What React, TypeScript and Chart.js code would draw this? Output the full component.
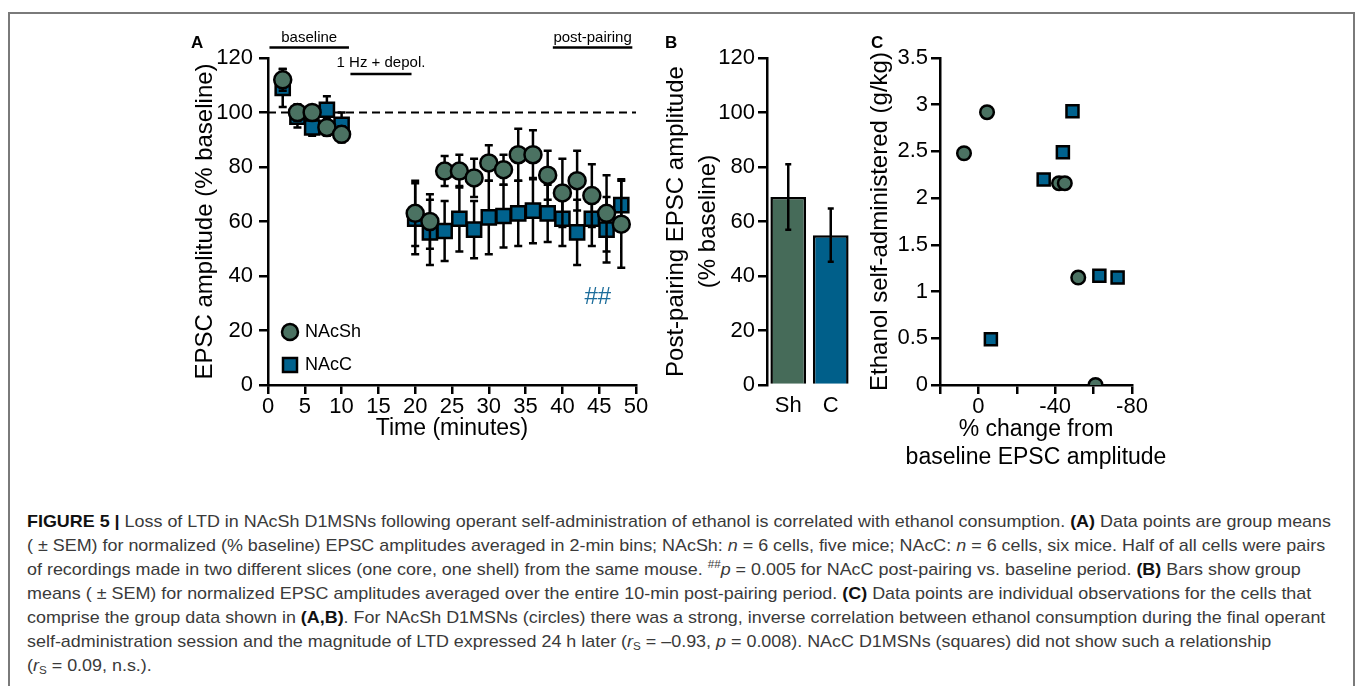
import React, { useEffect, useLayoutEffect, useRef } from 'react';
import { Chart, registerables } from 'chart.js';

Chart.register(...registerables);

const FONT = '"Liberation Sans", Arial, Helvetica, sans-serif';

// ---------------- Panel A data ----------------
const timeBins = [2, 4, 6, 8, 10, 20, 22, 24, 26, 28, 30, 32, 34, 36, 38, 40, 42, 44, 46, 48];
const nacshMean = [112, 100, 100, 94.5, 92, 63, 60, 78.5, 78.5, 76, 81.5, 79, 84.5, 84.5, 77, 70.5, 75, 69.5, 63, 59];
const nacshSem = [4, 3, 2, 3, 3, 12, 10, 5.5, 6, 7, 6.5, 5.5, 9.5, 9, 9, 12.5, 11, 11.5, 14, 16];
const naccMean = [109, 98.5, 94.5, 101, 95.5, 61, 56, 56.5, 61, 57, 61.5, 62, 63, 64, 63, 61, 56, 61, 57, 66];
const naccSem = [7, 4, 3, 5, 4.5, 13, 12, 11, 12, 10.5, 13.5, 11.5, 12, 12, 10.5, 10, 12, 10, 12, 9.5];
const seriesNamesA = ['NAcSh', 'NAcC'];
const periodLabels = ['baseline', '1 Hz + depol.', 'post-pairing'];
const periodStart = [0.2, 11.2, 38.7];
const periodEnd = [11, 19.5, 49.5];
const baselineLevel = 100;
const sigLabel = '##';
const sigTime = 44.8;
const sigValue = 32;

// ---------------- Panel B data ----------------
const barCategories = ['Sh', 'C'];
const barMeans = [69, 55];
const barSems = [12, 9.8];

// ---------------- Panel C data ----------------
const shChange = [7.5, -4.5, -42, -45, -52, -61];
const shIntake = [2.48, 2.92, 2.16, 2.16, 1.15, 0];
const cChange = [-49, -44, -34, -63, -72.5, -6.5];
const cIntake = [2.93, 2.49, 2.2, 1.17, 1.15, 0.49];
const labeledChangeTicks = [0, -40, -80];
const xTitleC = ['% change from', 'baseline EPSC amplitude'];

// ---------------- Styles ----------------
const GREEN = '#4b7262';
const BLUE = '#00628e';
const BAR_GREEN = '#466b59';
const BAR_BLUE = '#005f8a';
const SIG_BLUE = '#1d6d9b';

const tickFont = { family: FONT, size: 22 };
const titleFont = { family: FONT, size: 23, lineHeight: 1.2 };

function axisBase() {
  return {
    border: { display: true, color: '#000', width: 2.5 },
    grid: { drawOnChartArea: false, drawTicks: true, tickLength: 9, color: '#000', lineWidth: 2.5 },
  };
}

function drawErrorBars(ctx: CanvasRenderingContext2D, xs: number[], means: number[], sems: number[], yScale: any, cap: number) {
  ctx.save();
  ctx.strokeStyle = '#000';
  ctx.lineWidth = 2.5;
  ctx.beginPath();
  for (let i = 0; i < xs.length; i++) {
    const x = xs[i];
    const yt = yScale.getPixelForValue(means[i] + sems[i]);
    const yb = yScale.getPixelForValue(means[i] - sems[i]);
    ctx.moveTo(x, yt);
    ctx.lineTo(x, yb);
    ctx.moveTo(x - cap, yt);
    ctx.lineTo(x + cap, yt);
    ctx.moveTo(x - cap, yb);
    ctx.lineTo(x + cap, yb);
  }
  ctx.stroke();
  ctx.restore();
}

function PanelA() {
  const ref = useRef<HTMLCanvasElement>(null);
  useEffect(() => {
    if (!ref.current) return;
    const means = [nacshMean, naccMean];
    const sems = [nacshSem, naccSem];
    const decor = {
      id: 'decorA',
      beforeDatasetsDraw(chart: any) {
        const { ctx, chartArea: ca, scales } = chart;
        const y = scales.y.getPixelForValue(baselineLevel);
        ctx.save();
        ctx.strokeStyle = '#000';
        ctx.lineWidth = 2;
        ctx.setLineDash([8, 5]);
        ctx.beginPath();
        ctx.moveTo(ca.left, y);
        ctx.lineTo(ca.right, y);
        ctx.stroke();
        ctx.restore();
      },
      beforeDatasetDraw(chart: any, args: any) {
        const meta = args.meta;
        const xs = meta.data.map((p: any) => p.x);
        drawErrorBars(chart.ctx, xs, means[args.index], sems[args.index], chart.scales.y, 4);
      },
      afterDraw(chart: any) {
        const { ctx, chartArea: ca, scales } = chart;
        const xs = scales.x;
        ctx.save();
        ctx.fillStyle = '#000';
        ctx.strokeStyle = '#000';
        ctx.lineWidth = 2.5;
        ctx.font = `15px ${FONT}`;
        ctx.textAlign = 'center';
        ctx.textBaseline = 'middle';
        const rowOffsets = [0, 1, 0];
        periodLabels.forEach((lab, i) => {
          const x0 = xs.getPixelForValue(periodStart[i]);
          const x1 = xs.getPixelForValue(periodEnd[i]);
          const lineY = ca.top - 10.5 + rowOffsets[i] * 26.5;
          const textY = ca.top - 20 + rowOffsets[i] * 25;
          ctx.beginPath();
          ctx.moveTo(x0, lineY);
          ctx.lineTo(x1, lineY);
          ctx.stroke();
          ctx.fillText(lab, (x0 + x1) / 2, textY);
        });
        // significance label
        ctx.fillStyle = SIG_BLUE;
        ctx.font = `24px ${FONT}`;
        ctx.fillText(sigLabel, xs.getPixelForValue(sigTime), scales.y.getPixelForValue(sigValue));
        // legend
        ctx.lineWidth = 2.5;
        const lx = ca.left + 22;
        const ly1 = ca.bottom - 53;
        const ly2 = ca.bottom - 20;
        ctx.beginPath();
        ctx.arc(lx, ly1, 8, 0, Math.PI * 2);
        ctx.fillStyle = GREEN;
        ctx.fill();
        ctx.stroke();
        ctx.beginPath();
        ctx.rect(lx - 7, ly2 - 7, 14, 14);
        ctx.fillStyle = BLUE;
        ctx.fill();
        ctx.stroke();
        ctx.fillStyle = '#000';
        ctx.font = `18px ${FONT}`;
        ctx.textAlign = 'left';
        ctx.fillText(seriesNamesA[0], lx + 15, ly1);
        ctx.fillText(seriesNamesA[1], lx + 15, ly2);
        ctx.restore();
      },
    };
    const chart = new Chart(ref.current, {
      type: 'scatter',
      data: {
        datasets: [
          {
            label: seriesNamesA[0],
            data: timeBins.map((t, i) => ({ x: t, y: nacshMean[i] })),
            pointStyle: 'circle',
            pointRadius: 8.5,
            pointBackgroundColor: GREEN,
            pointBorderColor: '#000',
            pointBorderWidth: 2.5,
            showLine: false,
          },
          {
            label: seriesNamesA[1],
            data: timeBins.map((t, i) => ({ x: t, y: naccMean[i] })),
            pointStyle: 'rect',
            pointRadius: 10,
            pointBackgroundColor: BLUE,
            pointBorderColor: '#000',
            pointBorderWidth: 2.5,
            showLine: false,
          },
        ],
      },
      options: {
        responsive: false,
        animation: false,
        devicePixelRatio: 1,
        events: [],
        layout: { padding: { left: 8, right: 24, top: 38, bottom: 6 } },
        plugins: { legend: { display: false }, tooltip: { enabled: false } },
        scales: {
          x: {
            type: 'linear',
            min: 0,
            max: 50,
            ...axisBase(),
            ticks: { stepSize: 5, font: tickFont, color: '#000', padding: 0, autoSkip: false, maxRotation: 0 },
            title: { display: true, text: 'Time (minutes)', font: titleFont, color: '#000', padding: { top: 0, bottom: 2 } },
            afterFit: (s: any) => { s.height = 59; },
          },
          y: {
            min: 0,
            max: 120,
            ...axisBase(),
            ticks: { stepSize: 20, font: tickFont, color: '#000', padding: 6 },
            title: { display: true, text: 'EPSC amplitude (% baseline)', font: { family: FONT, size: 24 }, color: '#000', padding: { top: 3, bottom: 0 } },
            afterFit: (s: any) => { s.width = 80; },
          },
        },
      } as any,
      plugins: [decor],
    });
    return () => chart.destroy();
  }, []);
  return <canvas ref={ref} width={480} height={430} style={{ position: 'absolute', left: 180, top: 20 }} />;
}

function PanelB() {
  const ref = useRef<HTMLCanvasElement>(null);
  useEffect(() => {
    if (!ref.current) return;
    const errs = {
      id: 'errB',
      afterDatasetsDraw(chart: any) {
        const meta = chart.getDatasetMeta(0);
        const xs = meta.data.map((b: any) => b.x);
        drawErrorBars(chart.ctx, xs, barMeans, barSems, chart.scales.y, 3);
      },
    };
    const chart = new Chart(ref.current, {
      type: 'bar',
      data: {
        labels: barCategories,
        datasets: [
          {
            data: barMeans,
            backgroundColor: [BAR_GREEN, BAR_BLUE],
            borderColor: '#000',
            borderWidth: 2.5,
            categoryPercentage: 1,
            barPercentage: 0.84,
          },
        ],
      },
      options: {
        responsive: false,
        animation: false,
        devicePixelRatio: 1,
        events: [],
        layout: { padding: { left: 0, right: 8, top: 38, bottom: 6 } },
        plugins: { legend: { display: false }, tooltip: { enabled: false } },
        scales: {
          x: {
            border: { display: false },
            grid: { display: false, drawTicks: false },
            ticks: { font: tickFont, color: '#000', padding: 8 },
            afterFit: (s: any) => { s.height = 59; },
          },
          y: {
            min: 0,
            max: 120,
            ...axisBase(),
            ticks: { stepSize: 20, font: tickFont, color: '#000', padding: 3 },
            title: {
              display: true,
              text: ['Post-pairing EPSC amplitude', '(% baseline)'],
              font: { family: FONT, size: 24, lineHeight: 1.34 },
              color: '#000',
              padding: { top: 0, bottom: 0 },
            },
            afterFit: (s: any) => { s.width = 107; },
          },
        },
      } as any,
      plugins: [errs],
    });
    return () => chart.destroy();
  }, []);
  return <canvas ref={ref} width={200} height={430} style={{ position: 'absolute', left: 660, top: 20 }} />;
}

function PanelC() {
  const ref = useRef<HTMLCanvasElement>(null);
  useEffect(() => {
    if (!ref.current) return;
    const xTitle = {
      id: 'xTitleC',
      afterDraw(chart: any) {
        const { ctx, chartArea: ca } = chart;
        ctx.save();
        ctx.fillStyle = '#000';
        ctx.font = `23px ${FONT}`;
        ctx.textAlign = 'center';
        ctx.textBaseline = 'middle';
        const cx = (ca.left + ca.right) / 2;
        xTitleC.forEach((line, i) => ctx.fillText(line, cx, ca.bottom + 45 + i * 28));
        ctx.restore();
      },
    };
    const chart = new Chart(ref.current, {
      type: 'scatter',
      data: {
        datasets: [
          {
            label: 'NAcSh',
            data: shChange.map((v, i) => ({ x: v, y: shIntake[i] })),
            pointStyle: 'circle',
            pointRadius: 6.8,
            pointBackgroundColor: GREEN,
            pointBorderColor: '#000',
            pointBorderWidth: 2.5,
          },
          {
            label: 'NAcC',
            data: cChange.map((v, i) => ({ x: v, y: cIntake[i] })),
            pointStyle: 'rect',
            pointRadius: 8.5,
            pointBackgroundColor: BLUE,
            pointBorderColor: '#000',
            pointBorderWidth: 2.5,
          },
        ],
      },
      options: {
        responsive: false,
        animation: false,
        devicePixelRatio: 1,
        events: [],
        layout: { padding: { left: 2, right: 48, top: 38, bottom: 6 } },
        plugins: { legend: { display: false }, tooltip: { enabled: false } },
        scales: {
          x: {
            type: 'linear',
            min: -80,
            max: 20,
            reverse: true,
            ...axisBase(),
            ticks: {
              stepSize: 20,
              font: tickFont,
              color: '#000',
              padding: 0,
              autoSkip: false,
              maxRotation: 0,
              callback: (v: any) => (labeledChangeTicks.includes(Number(v)) ? String(v) : ''),
            },
            afterFit: (s: any) => { s.height = 89; },
          },
          y: {
            min: 0,
            max: 3.5,
            ...axisBase(),
            ticks: { stepSize: 0.5, font: tickFont, color: '#000', padding: 3, callback: (v: any) => String(Number(v)) },
            title: { display: true, text: 'Ethanol self-administered (g/kg)', font: { family: FONT, size: 24 }, color: '#000', padding: { top: 4, bottom: 0 } },
            afterFit: (s: any) => { s.width = 78; },
          },
        },
      } as any,
      plugins: [xTitle],
    });
    return () => chart.destroy();
  }, []);
  return <canvas ref={ref} width={320} height={460} style={{ position: 'absolute', left: 860, top: 20 }} />;
}

const CAPTION_LEFT = 27;
const CAPTION_FIRST_END = 1331;

const supStyle: React.CSSProperties = { fontSize: '0.65em', position: 'relative', top: '-0.6em', verticalAlign: 'baseline', lineHeight: 0 };
const subStyle: React.CSSProperties = { fontSize: '0.65em', position: 'relative', top: '0.3em', verticalAlign: 'baseline', lineHeight: 0 };

function Caption() {
  const refs = useRef<(HTMLSpanElement | null)[]>([]);
  useLayoutEffect(() => {
    const first = refs.current[0];
    if (!first) return;
    const w = first.getBoundingClientRect().width;
    const s = w > 0 ? (CAPTION_FIRST_END - CAPTION_LEFT) / w : 1;
    refs.current.forEach((el) => {
      if (el) el.style.transform = `scaleX(${s})`;
    });
  }, []);
  const B = (t: string) => <b style={{ color: '#111' }}>{t}</b>;
  const I = (t: string) => <i>{t}</i>;
  const rs = (
    <>
      (<i>r</i>
      <span style={subStyle}>S</span>
    </>
  );
  const lines = [
    <>
      {B('FIGURE 5 | ')}Loss of LTD in NAcSh D1MSNs following operant self-administration of ethanol is correlated with ethanol consumption. {B('(A)')} Data points are group means
    </>,
    <>
      ( ± SEM) for normalized (% baseline) EPSC amplitudes averaged in 2-min bins; NAcSh: {I('n')} = 6 cells, five mice; NAcC: {I('n')} = 6 cells, six mice. Half of all cells were pairs
    </>,
    <>
      of recordings made in two different slices (one core, one shell) from the same mouse.{' '}
      <span style={supStyle}>##</span>
      {I('p')} = 0.005 for NAcC post-pairing vs. baseline period. {B('(B)')} Bars show group
    </>,
    <>
      means ( ± SEM) for normalized EPSC amplitudes averaged over the entire 10-min post-pairing period. {B('(C)')} Data points are individual observations for the cells that
    </>,
    <>
      comprise the group data shown in {B('(A,B)')}. For NAcSh D1MSNs (circles) there was a strong, inverse correlation between ethanol consumption during the final operant
    </>,
    <>
      self-administration session and the magnitude of LTD expressed 24 h later {rs} = –0.93, {I('p')} = 0.008). NAcC D1MSNs (squares) did not show such a relationship
    </>,
    <>
      {rs} = 0.09, n.s.).
    </>,
  ];
  return (
    <>
      {lines.map((content, i) => (
        <span
          key={i}
          ref={(el) => { refs.current[i] = el; }}
          style={{
            position: 'absolute',
            left: CAPTION_LEFT,
            top: 510 + i * 24,
            height: 24,
            whiteSpace: 'nowrap',
            display: 'inline-block',
            fontFamily: FONT,
            fontSize: 17,
            lineHeight: '24px',
            color: '#3a3a3a',
            transformOrigin: 'left center',
          }}
        >
          {content}
        </span>
      ))}
    </>
  );
}

const panelLetters = [
  { t: 'A', x: 191 },
  { t: 'B', x: 665 },
  { t: 'C', x: 871 },
];

export default function App() {
  return (
    <div
      style={{
        position: 'fixed',
        left: 0,
        top: 0,
        width: 1357,
        height: 686,
        background: '#fff',
        overflow: 'hidden',
        fontFamily: FONT,
      }}
    >
      <div
        style={{
          position: 'absolute',
          left: 8,
          top: 12,
          width: 1347,
          height: 720,
          border: '2px solid #7a7a7a',
          boxSizing: 'border-box',
        }}
      />
      <PanelA />
      <PanelB />
      <PanelC />
      {panelLetters.map((p) => (
        <div
          key={p.t}
          style={{
            position: 'absolute',
            left: p.x,
            top: 34,
            fontSize: 17,
            lineHeight: '17px',
            fontWeight: 'bold',
            color: '#000',
            fontFamily: FONT,
          }}
        >
          {p.t}
        </div>
      ))}
      <Caption />
    </div>
  );
}
